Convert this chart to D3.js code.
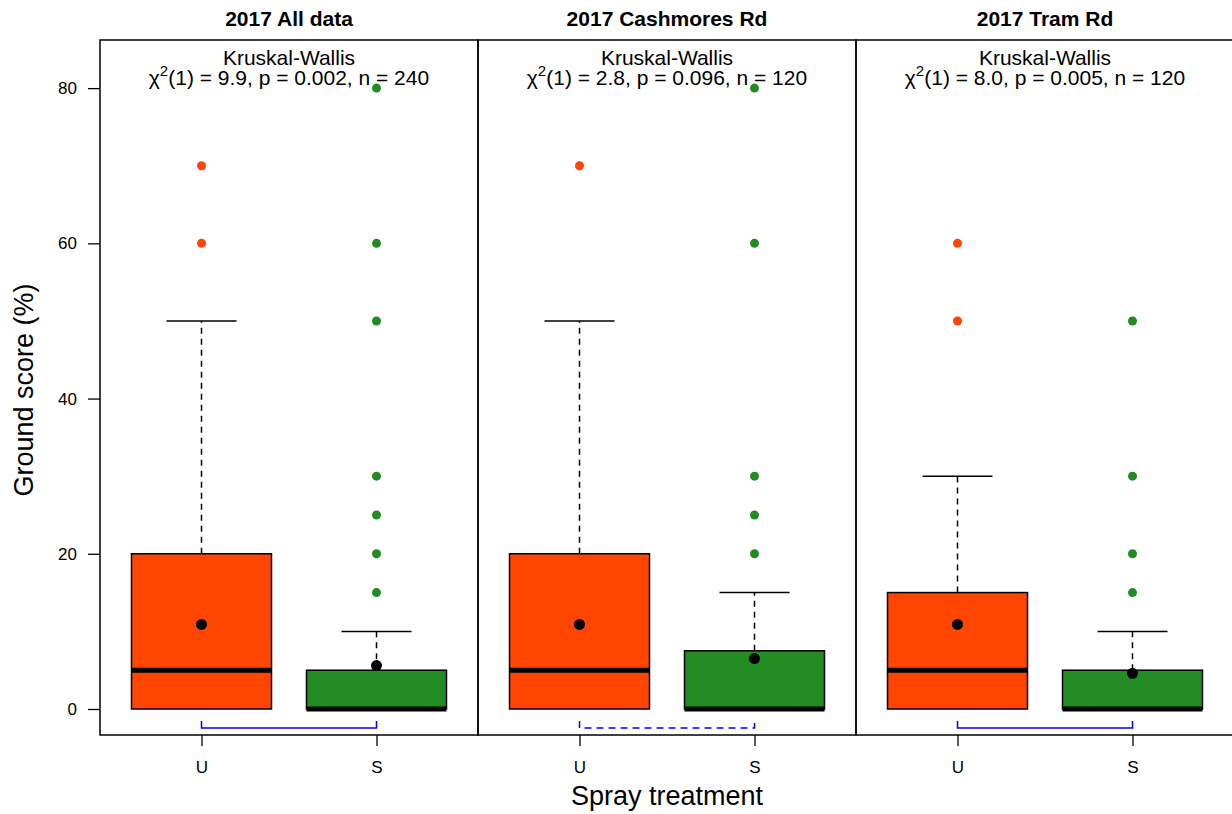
<!DOCTYPE html>
<html><head><meta charset="utf-8">
<script src="https://cdn.jsdelivr.net/npm/d3@7"></script>
<style>body{margin:0;background:#fff}svg{display:block;font-family:"Liberation Sans",Arial,sans-serif}</style>
</head><body><svg id="c" width="1232" height="814"></svg>
<script>
// ---- data ----
const panels = ["2017 All data", "2017 Cashmores Rd", "2017 Tram Rd"];
const groups = ["U", "S"];
const statLine1 = ["Kruskal-Wallis", "Kruskal-Wallis", "Kruskal-Wallis"];
const chiSq = ["9.9", "2.8", "8.0"];
const pValues = ["0.002", "0.096", "0.005"];
const nValues = ["240", "120", "120"];
const significant = [true, false, true];
// per panel: [U, S]
const q1 = [[0, 0], [0, 0], [0, 0]];
const medians = [[5, 0], [5, 0], [5, 0]];
const q3 = [[20, 5], [20, 7.5], [15, 5]];
const whiskLo = [[0, 0], [0, 0], [0, 0]];
const whiskHi = [[50, 10], [50, 15], [30, 10]];
const means = [[10.9, 5.6], [10.9, 6.5], [10.9, 4.6]];
const outliers = [
  [[60, 70], [15, 20, 25, 30, 50, 60, 80]],
  [[70], [20, 25, 30, 60, 80]],
  [[50, 60], [15, 20, 30, 50]]
];
const yTicks = [0, 20, 40, 60, 80];
const colors = ["#FF4500", "#228B22"];

// ---- layout ----
const svg = d3.select("#c");
const mLeft = 100, mTop = 40, mBottom = 735, panelW = 378;
const y = d3.scaleLinear().domain([-3.35, 86.2]).range([mBottom, mTop]);
const FONT = "Liberation Sans, Arial, sans-serif";

// y axis
const yAxis = d3.axisLeft(y).tickValues(yTicks).tickSize(12).tickPadding(11);
const ya = svg.append("g").attr("transform", `translate(${mLeft},0)`).call(yAxis);
ya.select(".domain").remove();
ya.selectAll("line").attr("stroke", "#000").attr("stroke-width", 1.3);
ya.selectAll("text").attr("font-size", 17).attr("fill", "#000").attr("font-family", FONT);

svg.append("text").attr("transform", `translate(33,390) rotate(-90)`)
  .attr("text-anchor", "middle").attr("font-size", 27).text("Ground score (%)");
svg.append("text").attr("x", mLeft + panelW * 1.5).attr("y", 805)
  .attr("text-anchor", "middle").attr("font-size", 27).text("Spray treatment");

panels.forEach((title, p) => {
  const x0 = mLeft + p * panelW;
  const x = d3.scaleLinear().domain([0.42, 2.58]).range([x0, x0 + panelW]);
  const pos = i => x(i + 1);
  const bw = x(1.8) - x(1);
  const g = svg.append("g");

  // frame
  g.append("rect").attr("x", x0).attr("y", mTop).attr("width", panelW).attr("height", mBottom - mTop)
    .attr("fill", "none").attr("stroke", "#000").attr("stroke-width", 1.5);

  // title
  g.append("text").attr("x", x0 + panelW / 2).attr("y", 26).attr("text-anchor", "middle")
    .attr("font-size", 21).attr("font-weight", "bold").text(title);

  // stats text
  g.append("text").attr("x", x0 + panelW / 2).attr("y", 65).attr("text-anchor", "middle")
    .attr("font-size", 21).text(statLine1[p]);
  const t2 = g.append("text").attr("x", x0 + panelW / 2).attr("y", 85).attr("text-anchor", "middle")
    .attr("font-size", 21);
  t2.append("tspan").text("\u03C7");
  t2.append("tspan").attr("dy", -9).attr("font-size", 15).text("2");
  t2.append("tspan").attr("dy", 9).text(`(1) = ${chiSq[p]}, p = ${pValues[p]}, n = ${nValues[p]}`);

  // x axis
  const xAxis = d3.axisBottom(x).tickValues([1, 2]).tickFormat((d, i) => groups[i]).tickSize(11).tickPadding(15);
  const xa = g.append("g").attr("transform", `translate(0,${mBottom})`).call(xAxis);
  xa.select(".domain").remove();
  xa.selectAll("line").attr("stroke", "#000").attr("stroke-width", 1.3);
  xa.selectAll("text").attr("font-size", 17).attr("fill", "#000").attr("font-family", FONT);

  groups.forEach((gr, i) => {
    const cx = pos(i);
    // whiskers
    g.append("line").attr("x1", cx).attr("x2", cx).attr("y1", y(q3[p][i])).attr("y2", y(whiskHi[p][i]))
      .attr("stroke", "#000").attr("stroke-width", 1.5).attr("stroke-dasharray", "6,5");
    g.append("line").attr("x1", cx - bw / 4).attr("x2", cx + bw / 4).attr("y1", y(whiskHi[p][i])).attr("y2", y(whiskHi[p][i]))
      .attr("stroke", "#000").attr("stroke-width", 1.5);
    // box
    g.append("rect").attr("x", cx - bw / 2).attr("width", bw)
      .attr("y", y(q3[p][i])).attr("height", y(q1[p][i]) - y(q3[p][i]))
      .attr("fill", colors[i]).attr("stroke", "#000").attr("stroke-width", 1.5);
    // median
    g.append("line").attr("x1", cx - bw / 2).attr("x2", cx + bw / 2).attr("y1", y(medians[p][i])).attr("y2", y(medians[p][i]))
      .attr("stroke", "#000").attr("stroke-width", 5);
    // outliers
    g.selectAll(null).data(outliers[p][i]).enter().append("circle")
      .attr("cx", cx).attr("cy", d => y(d)).attr("r", 4.5).attr("fill", colors[i]);
    // mean
    g.append("circle").attr("cx", cx).attr("cy", y(means[p][i])).attr("r", 5.5).attr("fill", "#000");
  });

  // significance bracket
  const by = 728, bt = 721;
  g.append("path").attr("d", `M${pos(0)},${bt}V${by}H${pos(1)}V${bt}`)
    .attr("fill", "none").attr("stroke", "#0000FF").attr("stroke-width", 1.5)
    .attr("stroke-dasharray", significant[p] ? null : "7,5");
});
</script></body></html>
